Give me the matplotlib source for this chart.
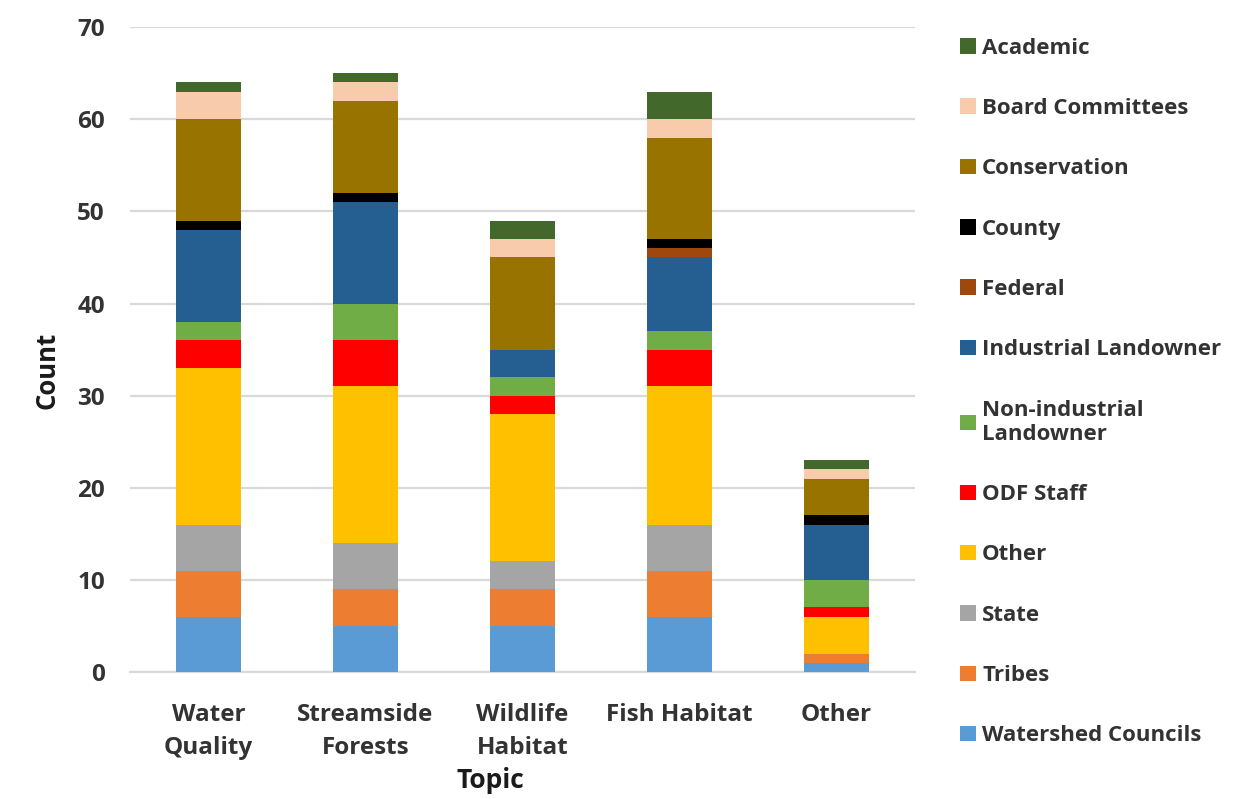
import matplotlib
matplotlib.use("Agg")
import matplotlib.pyplot as plt
import numpy as np

plt.rcParams['font.family'] = ['Open Sans', 'DejaVu Sans']
plt.rcParams['font.weight'] = 'bold'
plt.rcParams['text.color'] = '#333333'
plt.rcParams['xtick.color'] = '#333333'
plt.rcParams['ytick.color'] = '#333333'
plt.rcParams['axes.labelcolor'] = '#1a1a1a'

topics = ["Water\nQuality", "Streamside\nForests", "Wildlife\nHabitat", "Fish Habitat", "Other"]

series_names = ["Watershed Councils", "Tribes", "State", "Other", "ODF Staff",
                "Non-industrial\nLandowner", "Industrial Landowner", "Federal",
                "County", "Conservation", "Board Committees", "Academic"]

watershed_councils = [6, 5, 5, 6, 1]
tribes = [5, 4, 4, 5, 1]
state = [5, 5, 3, 5, 0]
other = [17, 17, 16, 15, 4]
odf_staff = [3, 5, 2, 4, 1]
non_industrial = [2, 4, 2, 2, 3]
industrial = [10, 11, 3, 8, 6]
federal = [0, 0, 0, 1, 0]
county = [1, 1, 0, 1, 1]
conservation = [11, 10, 10, 11, 4]
board_committees = [3, 2, 2, 2, 1]
academic = [1, 1, 2, 3, 1]

series_values = [watershed_councils, tribes, state, other, odf_staff, non_industrial,
                 industrial, federal, county, conservation, board_committees, academic]

colors = ["#5B9BD5", "#ED7D31", "#A5A5A5", "#FFC000", "#FF0000", "#70AD47",
          "#255E91", "#9E480E", "#000000", "#997300", "#F8CBAD", "#43682B"]

fig = plt.figure(figsize=(12.5, 7.99), dpi=100)
ax = fig.add_axes([0.104, 0.159, 0.628, 0.807])

x = np.arange(len(topics))
bottom = np.zeros(len(topics))
handles = []
for name, vals, c in zip(series_names, series_values, colors):
    b = ax.bar(x, vals, width=0.41, bottom=bottom, color=c, label=name, zorder=3)
    handles.append(b)
    bottom += np.array(vals)

ax.set_xlim(-0.5, 4.5)
ax.set_ylim(0, 70)
ax.set_yticks(range(0, 71, 10))
ax.yaxis.grid(True, color="#D9D9D9", linewidth=1.6, zorder=0)
ax.set_axisbelow(True)
for s in ["top", "right", "left"]:
    ax.spines[s].set_visible(False)
ax.spines["bottom"].set_color("#D9D9D9")
ax.spines["bottom"].set_linewidth(1.6)
ax.tick_params(axis="both", length=0, labelsize=17.5)
ax.tick_params(axis="y", pad=18)
ax.tick_params(axis="x", pad=22)
ax.set_xticks(x)
ax.set_xticklabels(topics, fontsize=17.5, fontweight="bold", linespacing=1.55)
for lab in ax.get_yticklabels():
    lab.set_fontweight("bold")

ax.set_ylabel("Count", fontsize=18.5, fontweight="bold")
ax.yaxis.set_label_coords(-0.088, 0.468)
ax.set_xlabel("Topic", fontsize=19, fontweight="bold")
ax.xaxis.set_label_coords(0.459, -0.148)

leg = fig.legend(handles[::-1], series_names[::-1], loc="upper left",
                 bbox_to_anchor=(0.752, 0.978), frameon=False,
                 prop={"size": 16, "weight": "bold"}, labelspacing=1.77,
                 handlelength=0.7, handleheight=0.7, handletextpad=0.3)

fig.savefig("out.png", dpi=100)
